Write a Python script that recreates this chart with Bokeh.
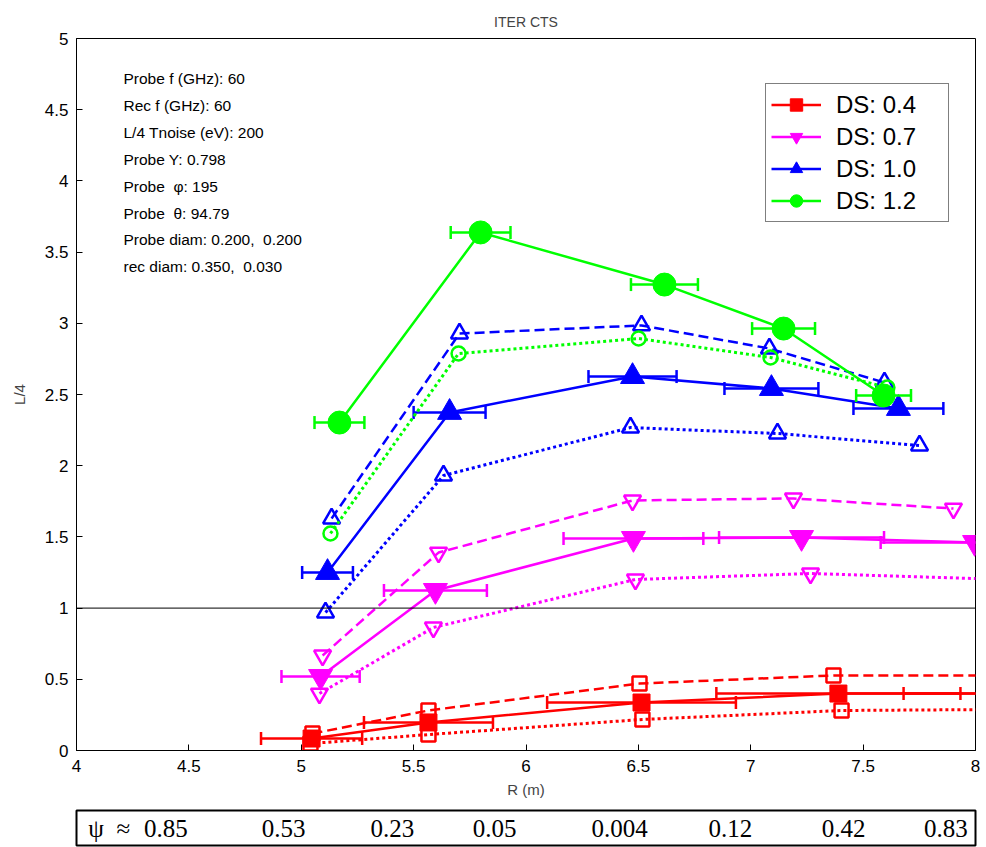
import math
from bokeh.plotting import figure
from bokeh.models import (Range1d, Span, Legend, LegendItem,
                          FixedTicker, NumeralTickFormatter, ColumnDataSource)
from bokeh.layouts import column
from bokeh.embed import file_html
from bokeh.resources import INLINE
from bokeh.core.properties import value

# ---------------- data ----------------
ds_labels = ["DS: 0.4", "DS: 0.7", "DS: 1.0", "DS: 1.2"]
ds_colors = ["#ff0000", "#ff00ff", "#0000ff", "#00ff00"]

# DS 0.4 (red, squares)
r04_solid_x = [5.046, 5.566, 6.514, 7.390, 8.28]
r04_solid_y = [0.084, 0.197, 0.337, 0.400, 0.400]
r04_solid_xerr = [0.225, 0.287, 0.420, 0.543, 0.60]
r04_dash_x = [5.050, 5.566, 6.505, 7.368, 8.25]
r04_dash_y = [0.119, 0.281, 0.470, 0.527, 0.527]
r04_dot_x = [5.041, 5.566, 6.518, 7.404, 8.30]
r04_dot_y = [0.049, 0.112, 0.218, 0.281, 0.290]

# DS 0.7 (magenta, down triangles)
r07_solid_x = [5.086, 5.597, 6.478, 7.226, 7.996]
r07_solid_y = [0.520, 1.124, 1.489, 1.496, 1.461]
r07_solid_xerr = [0.174, 0.229, 0.311, 0.367, 0.418]
r07_dash_x = [5.095, 5.611, 6.474, 7.190, 7.902]
r07_dash_y = [0.667, 1.390, 1.756, 1.770, 1.699]
r07_dot_x = [5.081, 5.588, 6.487, 7.266, 8.05]
r07_dot_y = [0.400, 0.864, 1.201, 1.243, 1.205]

# DS 1.0 (blue, up triangles)
r10_solid_x = [5.117, 5.660, 6.474, 7.092, 7.657]
r10_solid_y = [1.250, 2.374, 2.626, 2.542, 2.402]
r10_solid_xerr = [0.113, 0.160, 0.196, 0.209, 0.200]
r10_dash_x = [5.135, 5.704, 6.514, 7.083, 7.595]
r10_dash_y = [1.629, 2.928, 2.985, 2.823, 2.584]
r10_dot_x = [5.108, 5.633, 6.465, 7.119, 7.751]
r10_dot_y = [0.969, 1.931, 2.268, 2.226, 2.142]

# DS 1.2 (green, circles)
r12_solid_x = [5.170, 5.798, 6.616, 7.146, 7.591]
r12_solid_y = [2.303, 3.638, 3.272, 2.963, 2.493]
r12_solid_xerr = [0.111, 0.133, 0.149, 0.140, 0.122]
r12_dot_x = [5.130, 5.700, 6.501, 7.088, 7.608]
r12_dot_y = [1.524, 2.788, 2.893, 2.760, 2.549]

x_ticks = [4, 4.5, 5, 5.5, 6, 6.5, 7, 7.5, 8]
y_ticks = [0, 0.5, 1, 1.5, 2, 2.5, 3, 3.5, 4, 4.5, 5]
ref_level = 1.0

NB = "\u00a0"
info_lines = ["Probe f (GHz): 60", "Rec f (GHz): 60", "L/4 Tnoise (eV): 200",
              "Probe Y: 0.798", "Probe" + NB + NB + "\u03c6: 195", "Probe" + NB + NB + "\u03b8: 94.79",
              "Probe diam: 0.200," + NB + NB + "0.200", "rec diam: 0.350," + NB + NB + "0.030"]

psi_prefix = "\u03c8" + NB + NB + "\u2248"
psi_labels = ["0.85", "0.53", "0.23", "0.05", "0.004", "0.12", "0.42", "0.83"]
psi_R = [4.50, 5.03, 5.52, 5.98, 6.57, 7.04, 7.55, 8.01]

FONT = value("Liberation Sans")

# ---------------- main figure ----------------
p = figure(width=986, height=805, x_range=Range1d(4, 8), y_range=Range1d(0, 5),
           output_backend="svg", toolbar_location=None,
           min_border_left=76, min_border_right=11, min_border_top=38, min_border_bottom=55,
           background_fill_color="white", border_fill_color="white")
p.grid.visible = False
p.outline_line_color = "black"
p.outline_line_width = 1

p.title.text = "ITER CTS"
p.title.align = "center"
p.title.text_font_style = "normal"
p.title.text_font_size = "14px"
p.title.text_font = "Liberation Sans"
p.title.standoff = 17

for ax in (p.xaxis[0], p.yaxis[0]):
    ax.major_tick_in = 6
    ax.major_tick_out = 0
    ax.minor_tick_line_color = None
    ax.major_label_text_font_size = "17px"
    ax.major_label_text_font = "Liberation Sans"
    ax.major_label_text_color = "black"
    ax.axis_line_color = "black"
    ax.major_tick_line_color = "black"
    ax.axis_label_text_font = "Liberation Sans"
    ax.axis_label_text_font_style = "normal"
    ax.axis_label_text_font_size = "15px"
    ax.formatter = NumeralTickFormatter(format="0.[0]")
p.xaxis[0].ticker = FixedTicker(ticks=x_ticks)
p.yaxis[0].ticker = FixedTicker(ticks=y_ticks)
p.xaxis[0].axis_label = "R (m)"
p.yaxis[0].axis_label = "L/4"
p.xaxis[0].major_label_standoff = 9
p.xaxis[0].axis_label_standoff = 6
p.yaxis[0].major_label_standoff = 8
p.yaxis[0].axis_label_standoff = 14

p.add_layout(Span(location=ref_level, dimension="width", line_color="black", line_width=1))

p.text(x=[4.209] * len(info_lines), y=[4.719 - 0.189 * i for i in range(len(info_lines))],
       text=info_lines, text_font=FONT, text_font_size="15.5px", text_color="black",
       text_baseline="middle", text_align="left")

legend_items = []


def add_group(label, color, marker, fsize, osize, sx, sy, sxerr, dash=None, dot=None):
    src = ColumnDataSource(dict(x=sx, y=sy,
                                lo=[a - e for a, e in zip(sx, sxerr)],
                                hi=[a + e for a, e in zip(sx, sxerr)]))
    lr = p.line("x", "y", source=src, line_color=color, line_width=2.5)
    p.segment(x0="lo", y0="y", x1="hi", y1="y", source=src, line_color=color, line_width=2.5)
    p.scatter("lo", "y", source=src, marker="dash", angle=math.pi / 2, size=13,
              line_color=color, line_width=2.5)
    p.scatter("hi", "y", source=src, marker="dash", angle=math.pi / 2, size=13,
              line_color=color, line_width=2.5)
    mr = p.scatter("x", "y", source=src, marker=marker, size=fsize,
                   fill_color=color, line_color=color, line_width=1)
    legend_items.append(LegendItem(label=label, renderers=[lr, mr]))
    for series, dstyle, lw in ((dash, "10 5", 2.5), (dot, "3 3", 3)):
        if series is None:
            continue
        xs, ys = series
        p.line(xs, ys, line_color=color, line_width=lw, line_dash=dstyle)
        p.scatter(xs, ys, marker=marker, size=osize, fill_color="white", fill_alpha=0,
                  line_color=color, line_width=2.5)


add_group(ds_labels[0], ds_colors[0], "square", 17, 14,
          r04_solid_x, r04_solid_y, r04_solid_xerr,
          dash=(r04_dash_x, r04_dash_y), dot=(r04_dot_x, r04_dot_y))
add_group(ds_labels[1], ds_colors[1], "inverted_triangle", 24, 17,
          r07_solid_x, r07_solid_y, r07_solid_xerr,
          dash=(r07_dash_x, r07_dash_y), dot=(r07_dot_x, r07_dot_y))
add_group(ds_labels[2], ds_colors[2], "triangle", 24, 17,
          r10_solid_x, r10_solid_y, r10_solid_xerr,
          dash=(r10_dash_x, r10_dash_y), dot=(r10_dot_x, r10_dot_y))
add_group(ds_labels[3], ds_colors[3], "circle", 23, 14,
          r12_solid_x, r12_solid_y, r12_solid_xerr,
          dash=None, dot=(r12_dot_x, r12_dot_y))

legend = Legend(items=legend_items, location=(689, 528),
                border_line_color="black", border_line_width=1.5,
                background_fill_color="white", background_fill_alpha=1,
                label_text_font="Liberation Sans", label_text_font_size="24px",
                label_text_color="black",
                glyph_width=50, glyph_height=31, label_height=31, label_width=107,
                spacing=1, padding=5, margin=0, label_standoff=15)
p.add_layout(legend)

# ---------------- psi strip ----------------
q = figure(width=986, height=42, x_range=Range1d(4, 8.0445), y_range=Range1d(0, 1),
           output_backend="svg", toolbar_location=None,
           min_border_left=76, min_border_right=1, min_border_top=5, min_border_bottom=2,
           background_fill_color="white", border_fill_color="white")
q.xaxis.visible = False
q.yaxis.visible = False
q.grid.visible = False
q.outline_line_color = "black"
q.outline_line_width = 2
q.text(x=psi_R, y=[0.5] * len(psi_R), text=psi_labels, text_align="right",
       text_baseline="middle", text_font=value("Liberation Serif"),
       text_font_size="25px", text_color="black")
q.text(x=[4.053], y=[0.5], text=[psi_prefix], text_align="left",
       text_baseline="middle", text_font=value("Liberation Serif"),
       text_font_size="25px", text_color="black")

layout = column(p, q, spacing=0)
open("out.html", "w").write(file_html(layout, INLINE))
